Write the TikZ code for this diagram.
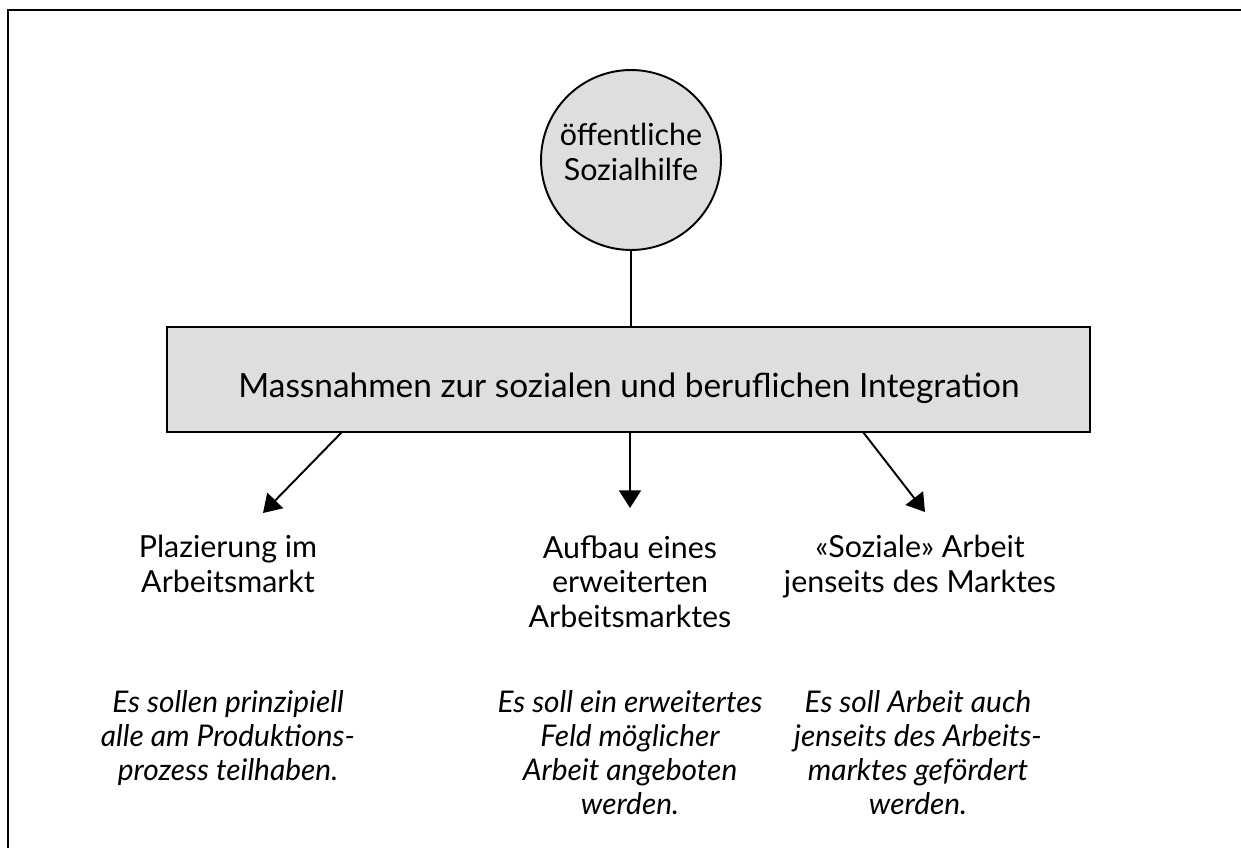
\documentclass[tikz,border=0pt]{standalone}
\usepackage{fontspec}
\setmainfont{Lato}
\usepackage{tikz}
\usetikzlibrary{positioning, arrows.meta}

\tikzset{
  grayfill/.style={draw, line width=1.1pt, fill=black!13},
  maintext/.style={font=\fontsize{17.3}{19.8}\selectfont, align=center, inner sep=0pt},
  desctext/.style={font=\fontsize{17}{19.3}\selectfont\itshape, align=center, inner sep=0pt},
}

\begin{document}
\begin{tikzpicture}[x=0.02cm, y=-0.02cm, >={Triangle[length=10pt, width=12.5pt]}]
\useasboundingbox (0,0) rectangle (1241,848);

% Frame (cut at right and bottom)
\draw[line width=1.7pt] (8,870) -- (8,10) -- (1260,10);

% Nodes
\node[grayfill, circle, minimum size=3.6cm] (hilfe) at (631,160) {};
\node[maintext] (hilfetext) at (631,152) {öffentliche\\Sozialhilfe};
\node[grayfill, minimum width=18.46cm, minimum height=2.1cm] (massn) at (628.5,379.5) {};
\node[maintext, font=\fontsize{19}{22}\selectfont] (massntext) at (629,388) {Massnahmen zur sozialen und beruflichen Integration};

\node[maintext, anchor=north] (plaz) at (228,535) {Plazierung im\\Arbeitsmarkt};
\node[maintext, anchor=north] (aufbau) at (630,535) {Aufbau eines\\erweiterten\\Arbeitsmarktes};
\node[maintext, anchor=north] (sozial) at (920,535) {«Soziale» Arbeit\\jenseits des Marktes};

\node[desctext, anchor=north] (plazd) at (228,690) {Es sollen prinzipiell\\alle am Produktions-\\prozess teilhaben.};
\node[desctext, anchor=north] (aufbaud) at (630,690) {Es soll ein erweitertes\\Feld möglicher\\Arbeit angeboten\\werden.};
\node[desctext, anchor=north] (soziald) at (918,690) {Es soll Arbeit auch\\jenseits des Arbeits-\\marktes gefördert\\werden.};

% Arrow ends
\coordinate (s1) at (342,432);
\coordinate (t1) at (263,513);
\coordinate (s2) at (630,432);
\coordinate (t2) at (630,508);
\coordinate (s3) at (863,432);
\coordinate (t3) at (925,512);

% Arrows
\draw[line width=1.1pt] (hilfe.south) -- (hilfe.south |- massn.north);
\draw[->, line width=1.1pt] (s1) -- (t1);
\draw[->, line width=1.1pt] (s2) -- (t2);
\draw[->, line width=1.1pt] (s3) -- (t3);

\end{tikzpicture}
\end{document}
